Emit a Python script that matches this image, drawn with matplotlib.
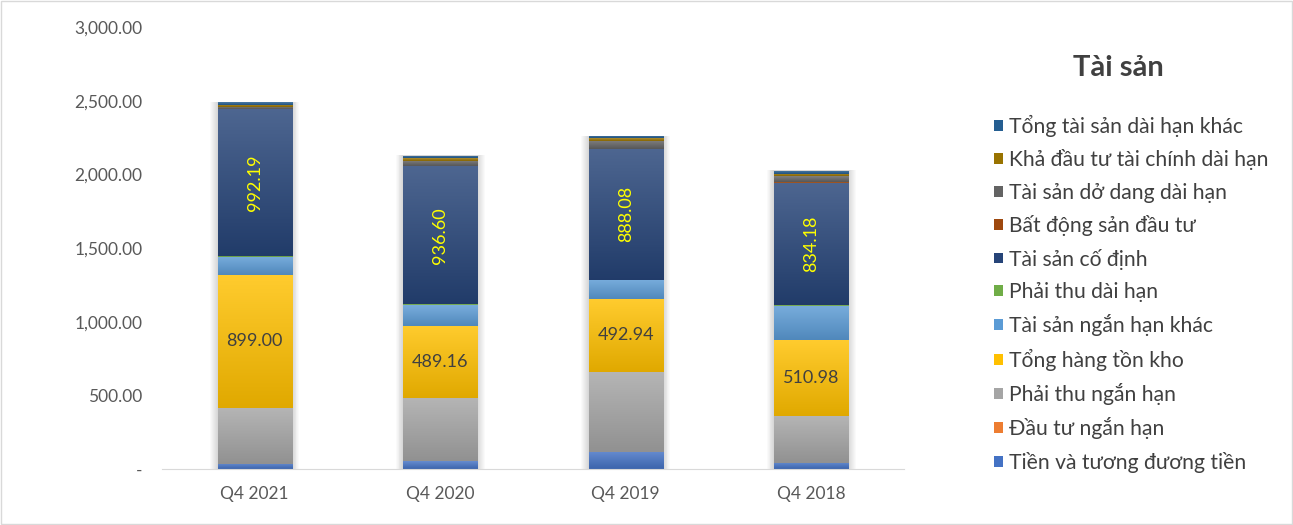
import numpy as np
import matplotlib
matplotlib.use("Agg")
import matplotlib.pyplot as plt
from matplotlib.colors import to_rgb, LinearSegmentedColormap
from matplotlib.patches import Rectangle, Patch

plt.rcParams['font.family'] = ['Lato', 'DejaVu Sans']

categories = ["Q4 2021", "Q4 2020", "Q4 2019", "Q4 2018"]

series_names = [
    "Tiền và tương đương tiền",
    "Đầu tư ngắn hạn",
    "Phải thu ngắn hạn",
    "Tổng hàng tồn kho",
    "Tài sản ngắn hạn khác",
    "Phải thu dài hạn",
    "Tài sản cố định",
    "Bất động sản đầu tư",
    "Tài sản dở dang dài hạn",
    "Khả đầu tư tài chính dài hạn",
    "Tổng tài sản dài hạn khác",
]

tien = [34, 54, 117, 41]
dau_tu_ngan_han = [0, 0, 0, 0]
phai_thu_ngan_han = [382, 430, 543, 321]
hang_ton_kho = [899.00, 489.16, 492.94, 510.98]
ts_ngan_han_khac = [125, 142, 129, 235]
phai_thu_dai_han = [8, 3, 2, 2]
ts_co_dinh = [992.19, 936.60, 888.08, 834.18]
bds_dau_tu = [3, 2, 2, 2]
ts_do_dang = [15, 35, 55, 40]
dau_tu_tai_chinh = [15, 20, 15, 14]
ts_dai_han_khac = [18, 15, 14, 25]

series = [tien, dau_tu_ngan_han, phai_thu_ngan_han, hang_ton_kho, ts_ngan_han_khac,
          phai_thu_dai_han, ts_co_dinh, bds_dau_tu, ts_do_dang, dau_tu_tai_chinh,
          ts_dai_han_khac]

colors = ["#4472C4", "#ED7D31", "#A5A5A5", "#FFC000", "#5B9BD5", "#70AD47",
          "#264478", "#9E480E", "#636363", "#997300", "#255E91"]


def shade(c, f):
    c = np.array(to_rgb(c))
    if f > 0:
        return tuple(c + (1 - c) * f)
    return tuple(c * (1 + f))


fig = plt.figure(figsize=(12.93, 5.25), dpi=100)
fig.patch.set_facecolor("white")
fig.patches.append(Rectangle((0.001, 0.002), 0.998, 0.996, transform=fig.transFigure,
                             fill=False, edgecolor="#D9D9D9", lw=1))

ax = fig.add_axes([162 / 1293, 56 / 525, 742 / 1293, 442 / 525])
x = np.arange(len(categories))
width = 0.4

totals = np.sum(np.array(series), axis=0)

# soft shadow behind each stack
for i in range(len(categories)):
    for k in np.linspace(0.005, 0.04, 8):
        ax.add_patch(Rectangle((x[i] - width / 2 - k, -3), width + 2 * k, totals[i] + 6,
                               color="black", alpha=0.018, lw=0, zorder=1))

bottom = np.zeros(len(categories))
for vals, col in zip(series, colors):
    vals = np.array(vals, dtype=float)
    bars = ax.bar(x, vals, width, bottom=bottom, color=col, lw=0, zorder=2)
    cmap = LinearSegmentedColormap.from_list("g", [shade(col, -0.12), shade(col, 0.18)])
    grad = np.linspace(0, 1, 64).reshape(-1, 1)
    for b in bars:
        if b.get_height() <= 0:
            continue
        x0, y0 = b.get_x(), b.get_y()
        im = ax.imshow(grad, cmap=cmap, aspect="auto", origin="lower",
                       extent=[x0, x0 + b.get_width(), y0, y0 + b.get_height()], zorder=3)
        im.set_clip_path(b)
    bottom += vals

# data labels
base_inv = np.array(tien) + np.array(dau_tu_ngan_han) + np.array(phai_thu_ngan_han)
for i, v in enumerate(hang_ton_kho):
    ax.text(x[i], base_inv[i] + v / 2, f"{v:,.2f}", ha="center", va="center",
            fontsize=13, color="#404040", zorder=5)

base_fix = base_inv + np.array(hang_ton_kho) + np.array(ts_ngan_han_khac) + np.array(phai_thu_dai_han)
for i, v in enumerate(ts_co_dinh):
    ax.text(x[i], base_fix[i] + v / 2, f"{v:,.2f}", ha="center", va="center",
            fontsize=13, color="#FFFF00", rotation=90, zorder=5)

ax.set_xlim(-0.5, len(categories) - 0.5)
ax.set_ylim(0, 3000)
ax.set_yticks(np.arange(0, 3001, 500))
ax.set_yticklabels(["-"] + [f"{v:,.2f}" for v in range(500, 3001, 500)])
ax.set_xticks(x)
ax.set_xticklabels(categories)
ax.tick_params(axis="both", length=0, labelsize=12.5, colors="#595959")
ax.tick_params(axis="y", pad=14)
ax.tick_params(axis="x", pad=12)
for s in ["top", "right", "left"]:
    ax.spines[s].set_visible(False)
ax.spines["bottom"].set_color("#D9D9D9")
ax.spines["bottom"].set_zorder(6)

fig.text(1118 / 1293, 1 - 68 / 525, "Tài sản", ha="center", va="center",
         fontsize=21, fontweight="bold", color="#404040")

handles = [Patch(facecolor=c, edgecolor="none") for c in colors][::-1]
labels = series_names[::-1]
leg = fig.legend(handles, labels, loc="upper left", bbox_to_anchor=(994 / 1293, 1 - 115 / 525),
                 frameon=False, fontsize=15.2, handlelength=0.42, handleheight=0.42,
                 handletextpad=0.3, labelspacing=0.585, borderaxespad=0, borderpad=0)
for t in leg.get_texts():
    t.set_color("#404040")

fig.savefig("out.png", dpi=100)
